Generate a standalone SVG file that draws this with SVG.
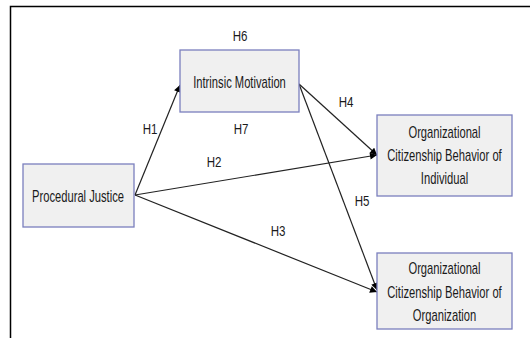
<svg xmlns="http://www.w3.org/2000/svg" width="530" height="338" viewBox="0 0 530 338">
<style>
.box{fill:#f0f0f0;stroke:#7a7fbd;stroke-width:1.3}
.t{font-family:"Liberation Sans",Arial,sans-serif;font-size:16px;fill:#1a1a1a;text-anchor:middle}
.lbl{font-family:"Liberation Sans",Arial,sans-serif;font-size:15px;fill:#1a1a1a;text-anchor:middle}
.c{stroke:#222;stroke-width:1.2;fill:none;marker-end:url(#ah)}
</style>
<defs>
<marker id="ah" viewBox="0 0 10 10" refX="10" refY="5" markerWidth="8" markerHeight="7" markerUnits="userSpaceOnUse" orient="auto">
<path d="M0,0 L10,5 L0,10 Z" fill="#000"/>
</marker>
</defs>
<rect x="0" y="0" width="530" height="338" fill="#fff"/>
<path d="M10.5,338 V6.5 H530" fill="none" stroke="#000" stroke-width="1.5"/>
<g id="connectors">
<line class="c" x1="135" y1="195" x2="180" y2="85"/>
<line class="c" x1="135" y1="195" x2="377" y2="155"/>
<line class="c" x1="135" y1="195" x2="377" y2="292"/>
<line class="c" x1="299" y1="84" x2="377" y2="155"/>
<line class="c" x1="299" y1="84" x2="377" y2="290"/>
</g>
<g id="labels">
<text class="lbl" transform="translate(240,40.5) scale(0.77,1)">H6</text>
<text class="lbl" transform="translate(150,133.5) scale(0.77,1)">H1</text>
<text class="lbl" transform="translate(241,133.5) scale(0.77,1)">H7</text>
<text class="lbl" transform="translate(346,106.5) scale(0.77,1)">H4</text>
<text class="lbl" transform="translate(214,166.5) scale(0.77,1)">H2</text>
<text class="lbl" transform="translate(362,205.5) scale(0.77,1)">H5</text>
<text class="lbl" transform="translate(278,235.5) scale(0.77,1)">H3</text>
</g>
<g id="intrinsic-motivation">
<rect class="box" x="180" y="50" width="119" height="62"/>
<text class="t" transform="translate(239.5,87.5) scale(0.7,1)">Intrinsic Motivation</text>
</g>
<g id="procedural-justice">
<rect class="box" x="23" y="164" width="111" height="63"/>
<text class="t" transform="translate(78,201.5) scale(0.7,1)">Procedural Justice</text>
</g>
<g id="ocb-individual">
<rect class="box" x="377" y="115" width="135" height="81"/>
<text class="t" transform="translate(444.5,137.5) scale(0.7,1)">Organizational</text>
<text class="t" transform="translate(444.5,160.5) scale(0.7,1)">Citizenship Behavior of</text>
<text class="t" transform="translate(444.5,183.5) scale(0.7,1)">Individual</text>
</g>
<g id="ocb-organization">
<rect class="box" x="377" y="253" width="135" height="76"/>
<text class="t" transform="translate(444.5,273.5) scale(0.7,1)">Organizational</text>
<text class="t" transform="translate(444.5,297.5) scale(0.7,1)">Citizenship Behavior of</text>
<text class="t" transform="translate(444.5,320.5) scale(0.7,1)">Organization</text>
</g>
</svg>
